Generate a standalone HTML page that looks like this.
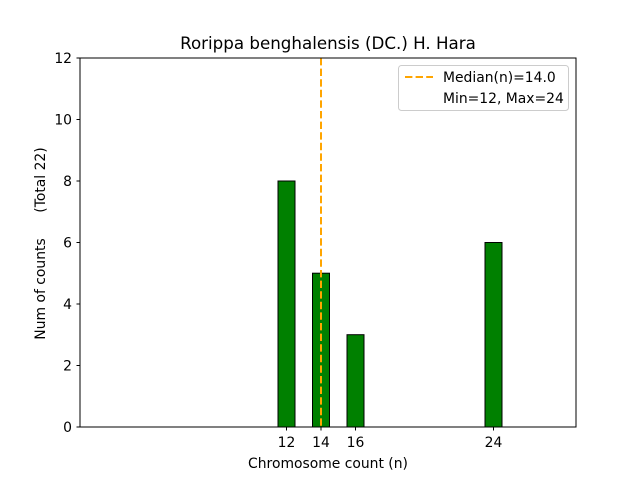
<!DOCTYPE html>
<html><head><style>body{margin:0;background:#fff}</style></head><body>
<svg width="640" height="480" xmlns="http://www.w3.org/2000/svg" font-family="DejaVu Sans, Liberation Sans, sans-serif">
<rect width="640" height="480" fill="#fff"/>
<g fill="green" stroke="#000" stroke-width="1">
<rect x="278" y="181" width="17" height="246"/>
<rect x="312.5" y="273.2" width="17" height="153.8"/>
<rect x="347" y="334.7" width="17" height="92.3"/>
<rect x="485" y="242.5" width="17" height="184.5"/>
</g>
<line x1="80" y1="427" x2="553" y2="427" stroke="#000" stroke-width="1"/>
<line x1="321" y1="58" x2="321" y2="427" stroke="orange" stroke-width="2" stroke-dasharray="7.4,3.2"/>
<rect x="80" y="58" width="496" height="369" fill="none" stroke="#000" stroke-width="1"/>
<g stroke="#000">
<line x1="80" y1="427" x2="76.5" y2="427"/><line x1="80" y1="365.5" x2="76.5" y2="365.5"/>
<line x1="80" y1="304" x2="76.5" y2="304"/><line x1="80" y1="242.5" x2="76.5" y2="242.5"/>
<line x1="80" y1="181" x2="76.5" y2="181"/><line x1="80" y1="119.5" x2="76.5" y2="119.5"/>
<line x1="80" y1="58" x2="76.5" y2="58"/>
<line x1="286.5" y1="427" x2="286.5" y2="430.5"/><line x1="321" y1="427" x2="321" y2="430.5"/>
<line x1="355.5" y1="427" x2="355.5" y2="430.5"/><line x1="493.5" y1="427" x2="493.5" y2="430.5"/>
</g>
<g font-size="13.9" text-anchor="end" fill="#000">
<text x="72" y="432">0</text><text x="72" y="370.5">2</text><text x="72" y="309">4</text>
<text x="72" y="247.5">6</text><text x="72" y="186">8</text><text x="72" y="124.5">10</text><text x="72" y="63">12</text>
</g>
<g font-size="13.9" text-anchor="middle">
<text x="286.5" y="447">12</text><text x="321" y="447">14</text><text x="355.5" y="447">16</text><text x="493.5" y="447">24</text>
<text x="328" y="468">Chromosome count (n)</text>
</g>
<text x="328" y="49" font-size="16.7" text-anchor="middle">Rorippa benghalensis (DC.) H. Hara</text>
<text transform="translate(45,289) rotate(-90)" font-size="13.9" text-anchor="middle">Num of counts</text>
<text transform="translate(45,180) rotate(-90)" font-size="13.9" text-anchor="middle">(Total 22)</text>
<rect x="398.5" y="65.5" width="170" height="45" rx="3" fill="#fff" stroke="#ccc"/>
<line x1="405" y1="77" x2="433" y2="77" stroke="orange" stroke-width="2" stroke-dasharray="7.4,3.2"/>
<text x="443" y="82" font-size="13.9">Median(n)=14.0</text>
<text x="443" y="103" font-size="13.9">Min=12, Max=24</text>
</svg>
</body></html>
